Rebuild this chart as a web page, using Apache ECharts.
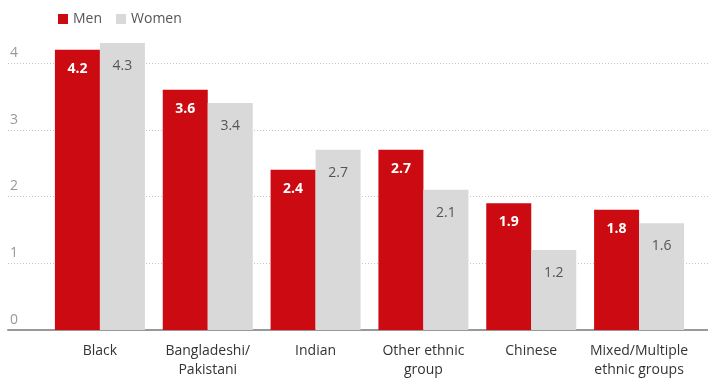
<!DOCTYPE html>
<html>
<head>
<meta charset="utf-8">
<script src="https://cdn.jsdelivr.net/npm/echarts@6/dist/echarts.min.js"></script>
<style>html,body{margin:0;padding:0;background:#fff}#c{width:708px;height:390px}</style>
</head>
<body>
<div id="c"></div>
<script>
var categories = ['Black', 'Bangladeshi/\nPakistani', 'Indian', 'Other ethnic\ngroup', 'Chinese', 'Mixed/Multiple\nethnic groups'];
var men = [4.2, 3.6, 2.4, 2.7, 1.9, 1.8];
var women = [4.3, 3.4, 2.7, 2.1, 1.2, 1.6];
var yTicks = [0, 1, 2, 3, 4];

var FONT = "'Open Sans', 'Noto Sans', sans-serif";
var chart = echarts.init(document.getElementById('c'));
chart.setOption({
  animation: false,
  textStyle: {fontFamily: FONT},
  legend: {
    left: 53, top: 7, itemWidth: 10, itemHeight: 10, itemGap: 14, icon: 'rect',
    textStyle: {color: '#555', fontSize: 14, fontFamily: FONT},
    data: ['Men', 'Women']
  },
  grid: [
    {left: 8, right: 0, top: 63, bottom: 60},
    {left: 46, right: 15, top: 63, bottom: 60}
  ],
  xAxis: [
    {gridIndex: 0, type: 'value', min: 0, max: 1, axisLine: {show: true, onZero: false, lineStyle: {color: '#999', width: 2}},
     axisTick: {show: false}, axisLabel: {show: false}, splitLine: {show: false}},
    {gridIndex: 1, type: 'category', data: categories, axisLine: {show: false}, axisTick: {show: false},
     axisLabel: {interval: 0, color: '#333', fontSize: 14, margin: 12, lineHeight: 19, fontFamily: FONT}}
  ],
  yAxis: [
    {gridIndex: 0, type: 'value', min: yTicks[0], max: yTicks[yTicks.length - 1], interval: 1,
     axisLine: {show: false}, axisTick: {show: false},
     axisLabel: {inside: true, margin: 2, verticalAlign: 'bottom', padding: [0, 0, 3, 0], color: '#999', fontSize: 14, fontFamily: FONT},
     splitLine: {show: true, lineStyle: {color: '#c4c4c4', type: [1, 2], width: 1}}},
    {gridIndex: 1, type: 'value', min: yTicks[0], max: yTicks[yTicks.length - 1], show: false}
  ],
  series: [
    {name: 'Men', type: 'bar', xAxisIndex: 1, yAxisIndex: 1, data: men, barWidth: 45, barGap: '0%', clip: false,
     itemStyle: {color: '#cc0a11'},
     label: {show: true, position: 'insideTop', distance: 12, color: '#fff', fontWeight: 'bold', fontSize: 14, fontFamily: FONT}},
    {name: 'Women', type: 'bar', xAxisIndex: 1, yAxisIndex: 1, data: women, barWidth: 45, barGap: '0%', clip: false,
     itemStyle: {color: '#d9d9d9'},
     label: {show: true, position: 'insideTop', distance: 16, color: '#555', fontSize: 14, fontFamily: FONT}}
  ]
});
</script>
</body>
</html>
